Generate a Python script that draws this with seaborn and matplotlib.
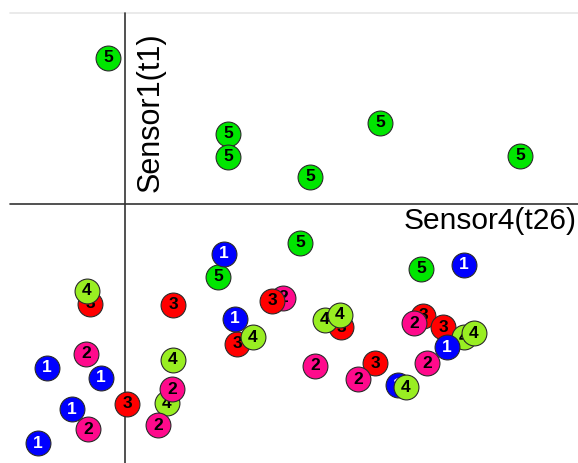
import matplotlib
matplotlib.use("Agg")
import matplotlib.pyplot as plt
import seaborn as sns
import pandas as pd

sns.set_style("white")
plt.rcParams["font.family"] = ["Liberation Sans", "DejaVu Sans"]

# Sample scores on the two sensor axes, listed in drawing order
# (later samples are painted over earlier ones)
pt_x = [-0.425, 2.575, 2.575, 6.375, 4.625, 9.875, 2.325, 4.375, 7.4,
        2.475, -1.95, -0.6, -2.175, 8.475,
        -0.975, 3.95, 4.75, 7.55,
        -0.875, 1.2, 3.675, 2.8, 0.05, 5.4, 7.45, 6.25, 7.95,
        -0.95, 3.2, 1.2, 1.05, 5.0, 5.375, 8.475, 8.725,
        2.75, 8.05, 6.825, 7.025,
        1.175, 0.825, -1.325, -0.925, 7.225, 5.825]
pt_y = [3.65, 1.75, 1.175, 2.025, 0.675, 1.2, -1.825, -0.975, -1.625,
        -1.25, -4.1, -4.35, -5.975, -1.525,
        -3.75, -2.35, -4.05, -3.975,
        -2.5, -2.525, -2.425, -3.5, -5.0, -3.075, -2.8, -3.975, -3.075,
        -2.175, -3.325, -3.9, -4.975, -2.9, -2.775, -3.325, -3.225,
        -2.875, -3.575, -4.525, -4.575,
        -4.625, -5.525, -5.125, -5.625, -2.975, -4.375]
pt_class = [5, 5, 5, 5, 5, 5, 5, 5, 5,
            1, 1, 1, 1, 1,
            2, 2, 2, 2,
            3, 3, 3, 3, 3, 3, 3, 3, 3,
            4, 4, 4, 4, 4, 4, 4, 4,
            1, 1, 1, 4,
            2, 2, 1, 2, 2, 2]

class_fill = {1: "#0000FF", 2: "#FF0A8C", 3: "#FF0000", 4: "#99EE22", 5: "#00E600"}
class_text = {1: "white", 2: "black", 3: "black", 4: "black", 5: "black"}

x_label = "Sensor4(t26)"
y_label = "Sensor1(t1)"

df = pd.DataFrame({"x": pt_x, "y": pt_y, "cls": pt_class})

fig = plt.figure(figsize=(5.78, 4.63), dpi=100)
ax = fig.add_axes([0, 0, 1, 1])
ax.set_xlim(-3.125, 11.325)
ax.set_ylim(-6.475, 5.1)
ax.set_axis_off()

# frame line along the top and the two crossing axes
ax.axhline(4.775, xmin=10 / 578, xmax=1, color="#e6e6e6", lw=1.2, zorder=1)
ax.axhline(0, xmin=10 / 578, xmax=1, color="#333333", lw=1.2, zorder=1)
ax.axvline(0, ymin=0, ymax=1 - 13 / 463, color="#333333", lw=1.2, zorder=1)

ax.text(11.3, -0.08, x_label, ha="right", va="top", fontsize=21.5, color="black")
ax.text(0.63, 2.3, y_label, ha="center", va="center", rotation=90,
        fontsize=22, color="black")

for i, row in df.iterrows():
    c = int(row["cls"])
    sns.scatterplot(x=[row["x"]], y=[row["y"]], ax=ax, s=320,
                    color=class_fill[c], edgecolor="#2a2a2a", linewidth=0.8,
                    zorder=3 + 2 * i, legend=False)
    ax.text(row["x"], row["y"], str(c), ha="center", va="center",
            fontsize=12.5, fontweight="bold", color=class_text[c],
            zorder=4 + 2 * i)

fig.savefig("out.png", dpi=100, facecolor="white")
